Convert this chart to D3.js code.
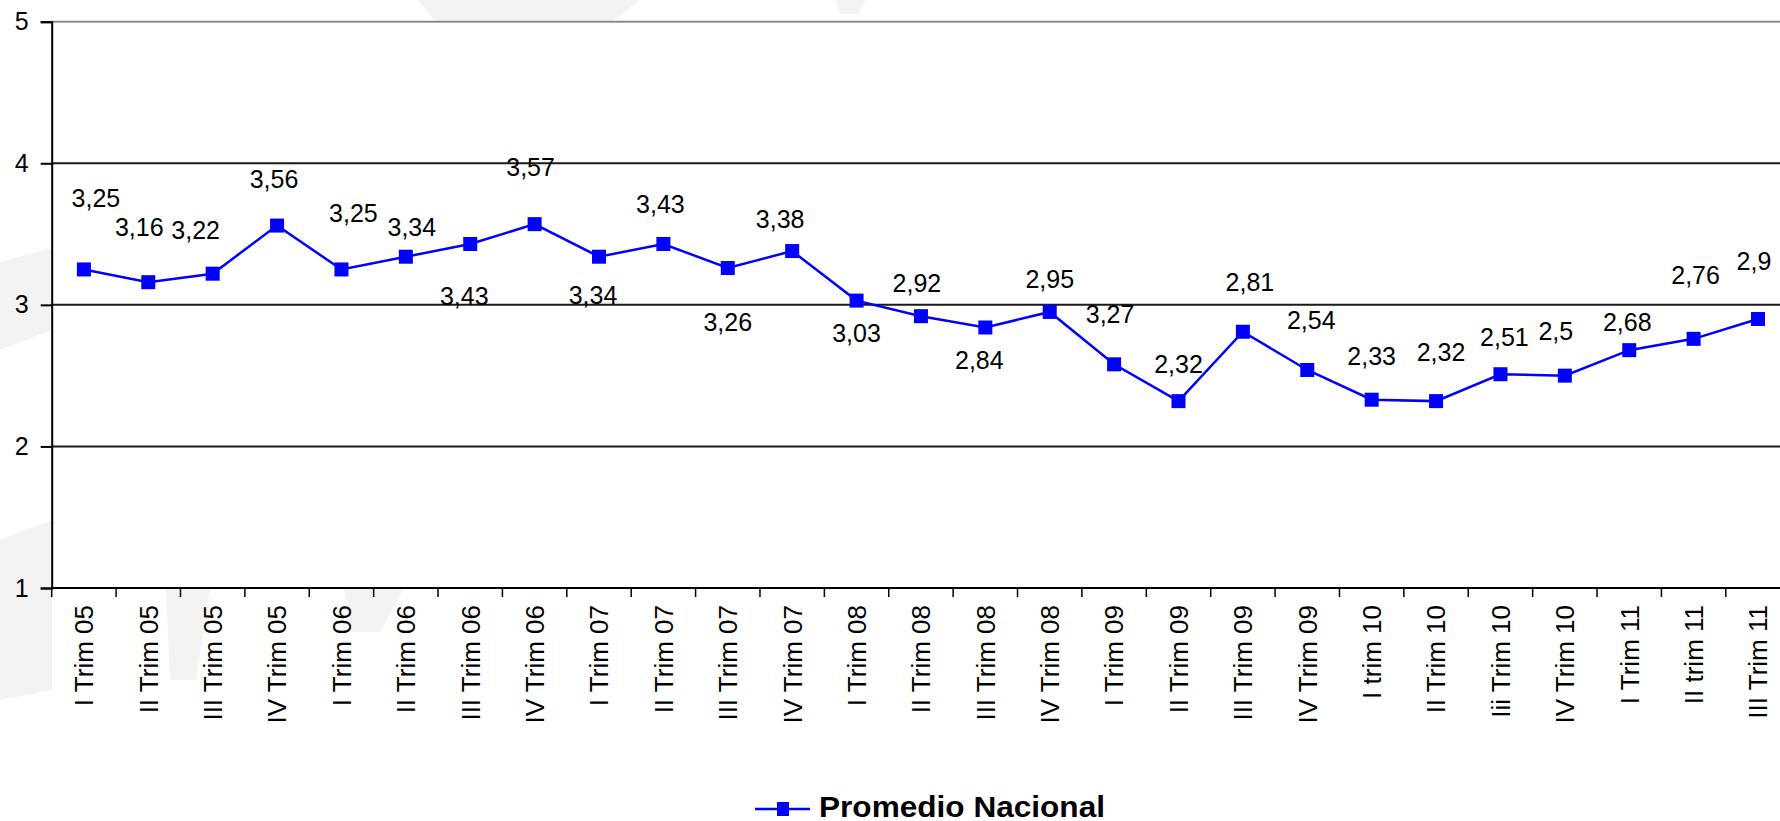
<!DOCTYPE html>
<html>
<head>
<meta charset="utf-8">
<script src="https://cdn.jsdelivr.net/npm/d3@7"></script>
<style>
  body { margin: 0; background: #fff; }
  svg { display: block; font-family: "Liberation Sans", Arial, sans-serif; }
</style>
</head>
<body>
<div id="chart"></div>
<script>
const categories = [
  "I Trim 05", "II Trim 05", "III Trim 05", "IV Trim 05",
  "I Trim 06", "II Trim 06", "III Trim 06", "IV Trim 06",
  "I Trim 07", "II Trim 07", "III Trim 07", "IV Trim 07",
  "I Trim 08", "II Trim 08", "III Trim 08", "IV Trim 08",
  "I Trim 09", "II Trim 09", "III Trim 09", "IV Trim 09",
  "I trim 10", "II Trim 10", "Iii Trim 10", "IV Trim 10",
  "I Trim 11", "II trim 11", "III Trim 11"
];

const values = [
  3.25, 3.16, 3.22, 3.56,
  3.25, 3.34, 3.43, 3.57,
  3.34, 3.43, 3.26, 3.38,
  3.03, 2.92, 2.84, 2.95,
  2.58, 2.32, 2.81, 2.54,
  2.33, 2.32, 2.51, 2.50,
  2.68, 2.76, 2.90
];

// label texts as printed on the chart
const labels = [
  "3,25", "3,16", "3,22", "3,56",
  "3,25", "3,34", "3,43", "3,57",
  "3,34", "3,43", "3,26", "3,38",
  "3,03", "2,92", "2,84", "2,95",
  "3,27", "2,32", "2,81", "2,54",
  "2,33", "2,32", "2,51", "2,5",
  "2,68", "2,76", "2,9"
];

const yTicks = [1, 2, 3, 4, 5];
const seriesName = "Promedio Nacional";

// where each data label sits relative to its point (px)
const labelOffsets = [
  [12, -71], [-9, -55], [-17, -43], [-3, -46],
  [12, -56], [6, -29], [-6, 52], [-4, -57],
  [-6, 39], [-3, -40], [0, 54], [-12, -32],
  [0, 33], [-4, -33], [-6, 33], [0, -33],
  [-4, -50], [0, -37], [7, -49], [4, -50],
  [0, -43], [5, -49], [4, -37], [-9, -44],
  [-2, -28], [2, -64], [-4, -58]
];

const W = 1780, H = 821;
const padL = 51.7, padT = 21.7, axisY = 588;
const plotW = 1738.5;
const blue = "#0000ff";

const svg = d3.select("#chart").append("svg")
  .attr("width", W)
  .attr("height", H);

// faint background watermark
const wm = svg.append("g").attr("fill", "#f3f3f3");
[
  [[418, 0], [640, 0], [612, 22], [436, 22]],
  [[836, 0], [866, 0], [858, 14], [840, 14]],
  [[0, 262], [52, 248], [52, 330], [0, 350]],
  [[0, 540], [52, 520], [52, 690], [0, 700]],
  [[166, 588], [210, 588], [196, 680], [170, 680]],
  [[344, 588], [404, 588], [380, 632], [350, 632]]
].forEach(p => wm.append("polygon").attr("points", p.map(d => d.join(",")).join(" ")));

const x = d3.scaleBand()
  .domain(categories)
  .range([padL, padL + plotW]);

const y = d3.scaleLinear()
  .domain([1, 5])
  .range([axisY, padT]);

// gridlines
svg.append("g")
  .selectAll("line")
  .data(yTicks.filter(t => t > 1))
  .join("line")
  .attr("x1", padL)
  .attr("x2", padL + plotW)
  .attr("y1", d => y(d))
  .attr("y2", d => y(d))
  .attr("stroke", d => d === 5 ? "#8c8c8c" : "#1a1a1a")
  .attr("stroke-width", 2);

// y axis
const yAxis = svg.append("g")
  .attr("transform", `translate(${padL},0)`)
  .call(d3.axisLeft(y).tickValues(yTicks).tickSize(11).tickPadding(12).tickFormat(d3.format("d")));
yAxis.select(".domain").attr("stroke", "#000").attr("stroke-width", 2);
yAxis.selectAll(".tick line").attr("stroke", "#000").attr("stroke-width", 2);
yAxis.selectAll(".tick text")
  .attr("font-size", 25)
  .attr("font-family", "Liberation Sans, Arial, sans-serif")
  .attr("fill", "#000");

// x axis: ticks between categories
const xg = svg.append("g");
xg.append("line")
  .attr("x1", padL).attr("x2", padL + plotW)
  .attr("y1", axisY).attr("y2", axisY)
  .attr("stroke", "#000").attr("stroke-width", 2);
xg.selectAll(".xt")
  .data(categories)
  .join("line")
  .attr("class", "xt")
  .attr("x1", d => x(d)).attr("x2", d => x(d))
  .attr("y1", axisY).attr("y2", axisY + 9)
  .attr("stroke", "#000").attr("stroke-width", 1.5);
xg.selectAll(".xl")
  .data(categories)
  .join("text")
  .attr("class", "xl")
  .attr("transform", d => `translate(${x(d) + x.bandwidth() / 2},${axisY + 17}) rotate(-90)`)
  .attr("text-anchor", "end")
  .attr("dy", "0.36em")
  .attr("font-size", 26)
  .attr("fill", "#000")
  .text(d => d);

// series
const pts = categories.map((c, i) => ({ c, v: values[i], label: labels[i], off: labelOffsets[i] }));

svg.append("path")
  .datum(pts)
  .attr("fill", "none")
  .attr("stroke", blue)
  .attr("stroke-width", 2.5)
  .attr("d", d3.line().x(d => x(d.c) + x.bandwidth() / 2).y(d => y(d.v)));

const ms = 14;
svg.append("g")
  .selectAll("rect")
  .data(pts)
  .join("rect")
  .attr("x", d => x(d.c) + x.bandwidth() / 2 - ms / 2)
  .attr("y", d => y(d.v) - ms / 2)
  .attr("width", ms)
  .attr("height", ms)
  .attr("fill", blue);

svg.append("g")
  .selectAll("text")
  .data(pts)
  .join("text")
  .attr("x", d => x(d.c) + x.bandwidth() / 2 + d.off[0])
  .attr("y", d => y(d.v) + d.off[1])
  .attr("dy", "0.35em")
  .attr("text-anchor", "middle")
  .attr("font-size", 25)
  .attr("fill", "#000")
  .text(d => d.label);

// legend
const lg = svg.append("g").attr("transform", "translate(755,809)");
lg.append("line")
  .attr("x1", 0).attr("x2", 55)
  .attr("stroke", blue).attr("stroke-width", 2.5);
lg.append("rect")
  .attr("x", 22).attr("y", -7)
  .attr("width", 12).attr("height", 14)
  .attr("fill", blue);
lg.append("text")
  .attr("x", 64)
  .attr("y", 8)
  .attr("font-size", 30)
  .attr("font-weight", "bold")
  .attr("textLength", 286)
  .attr("lengthAdjust", "spacingAndGlyphs")
  .attr("fill", "#000")
  .text(seriesName);
</script>
</body>
</html>
